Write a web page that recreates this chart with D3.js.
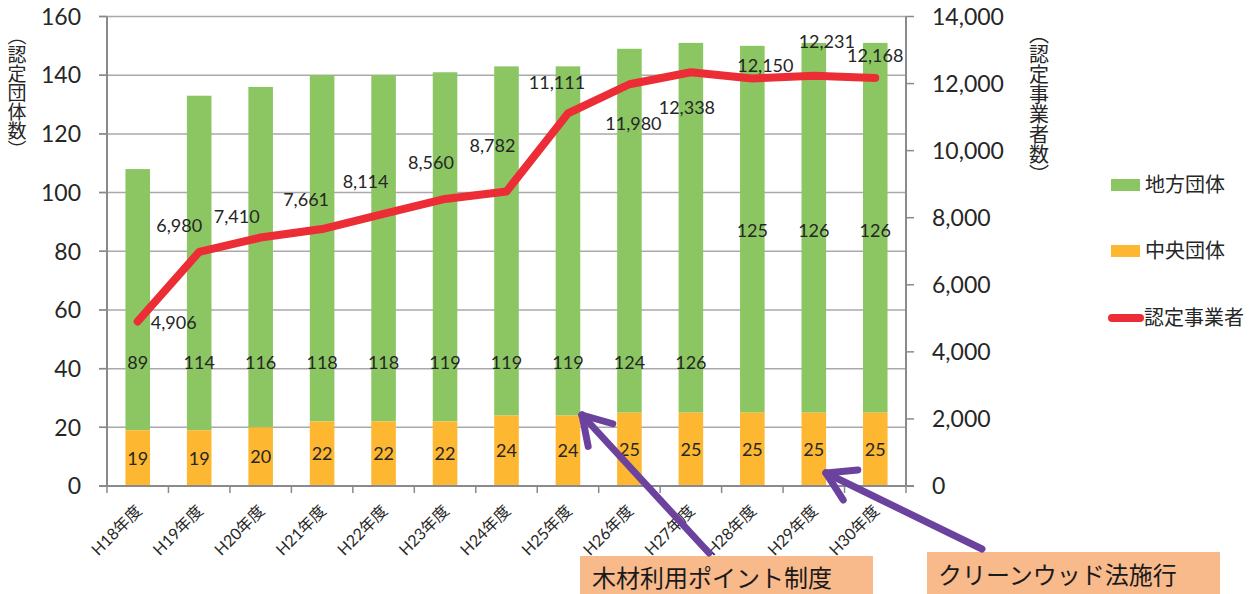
<!DOCTYPE html>
<html><head><meta charset="utf-8">
<script src="https://cdn.jsdelivr.net/npm/d3@7"></script>
<style>
html,body{margin:0;padding:0;background:#fff;}
svg{display:block;}
text{font-family:"Lato","Noto Sans CJK JP",sans-serif;fill:#262626;}
.cjk{font-family:"Noto Sans CJK JP",sans-serif;}
</style></head>
<body>
<svg id="chart" width="1254" height="594"></svg>
<script>
// ---- data ----
const categories = ["H18年度","H19年度","H20年度","H21年度","H22年度","H23年度","H24年度","H25年度","H26年度","H27年度","H28年度","H29年度","H30年度"];
const chuoDantai = [19,19,20,22,22,22,24,24,25,25,25,25,25];           // 中央団体
const chihoDantai = [89,114,116,118,118,119,119,119,124,126,125,126,126]; // 地方団体
const jigyosha = [4906,6980,7410,7661,8114,8560,8782,11111,11980,12338,12150,12231,12168]; // 認定事業者
const leftTicks = [0,20,40,60,80,100,120,140,160];
const rightTicks = [0,2000,4000,6000,8000,10000,12000,14000];
const seriesNames = ["地方団体","中央団体","認定事業者"];
const leftTitle = "（認定団体数）";
const rightTitle = "（認定事業者数）";
const notes = ["木材利用ポイント制度","クリーンウッド法施行"];

// ---- layout ----
const svg = d3.select("#chart");
const L = 107, R = 906, T = 16.5, B = 486;
const colGreen = "#8CC663", colOrange = "#FDB731", colRed = "#EC2D36", colPurple = "#6C429F", colBox = "#F8B98B";

const x = d3.scaleBand().domain(categories).range([L, R]).paddingInner(0.6).paddingOuter(0.3);
const xEdge = d3.scaleBand().domain(categories).range([L, R]).padding(0);
const yL = d3.scaleLinear().domain([0,160]).range([B, T]);
const yR = d3.scaleLinear().domain([0,14000]).range([B, T]);
const cx = c => x(c) + x.bandwidth()/2;

// gridlines
svg.append("g").selectAll("line").data(leftTicks).join("line")
  .attr("x1", L-8).attr("x2", R).attr("y1", d=>yL(d)).attr("y2", d=>yL(d))
  .attr("stroke", "#A9A9AC").attr("stroke-width", 1.5);

// bars
const stackData = categories.map((c,i)=>({c, a: chuoDantai[i], b: chihoDantai[i]}));
svg.append("g").selectAll("rect").data(stackData).join("rect")
  .attr("x", d=>x(d.c)).attr("width", x.bandwidth())
  .attr("y", d=>yL(d.a+d.b)).attr("height", d=>yL(d.a)-yL(d.a+d.b))
  .attr("fill", colGreen);
svg.append("g").selectAll("rect").data(stackData).join("rect")
  .attr("x", d=>x(d.c)).attr("width", x.bandwidth())
  .attr("y", d=>yL(d.a)).attr("height", d=>yL(0)-yL(d.a))
  .attr("fill", colOrange);

// axes lines
const axisCol = "#898A8E";
svg.append("line").attr("x1", L).attr("x2", L).attr("y1", T).attr("y2", B+1).attr("stroke", axisCol).attr("stroke-width", 2);
svg.append("line").attr("x1", R).attr("x2", R).attr("y1", T).attr("y2", B+1).attr("stroke", axisCol).attr("stroke-width", 2);
svg.append("line").attr("x1", L-8).attr("x2", R+8).attr("y1", B).attr("y2", B).attr("stroke", axisCol).attr("stroke-width", 2);
// left ticks
svg.append("g").selectAll("line").data(leftTicks).join("line")
  .attr("x1", L-8).attr("x2", L).attr("y1", d=>yL(d)).attr("y2", d=>yL(d)).attr("stroke", axisCol).attr("stroke-width",1.5);
// right ticks
svg.append("g").selectAll("line").data(rightTicks).join("line")
  .attr("x1", R).attr("x2", R+8).attr("y1", d=>yR(d)).attr("y2", d=>yR(d)).attr("stroke", axisCol).attr("stroke-width",1.5);
// bottom ticks at category edges
const edges = categories.map(c=>xEdge(c)).concat([R]);
svg.append("g").selectAll("line").data(edges).join("line")
  .attr("x1", d=>d).attr("x2", d=>d).attr("y1", B).attr("y2", B+7).attr("stroke", axisCol).attr("stroke-width",1.5);

// tick labels
svg.append("g").selectAll("text").data(leftTicks).join("text")
  .attr("x", 81).attr("y", d=>yL(d)).attr("dy","0.36em").attr("text-anchor","end")
  .style("font-size","23px").text(d=>d);
svg.append("g").selectAll("text").data(rightTicks).join("text")
  .attr("x", 932).attr("y", d=>yR(d)).attr("dy","0.36em").attr("text-anchor","start")
  .style("font-size","23px").text(d=>d3.format(",")(d));
svg.append("g").selectAll("text").data(categories).join("text")
  .attr("transform", c=>`translate(${cx(c)+5},${B+26}) rotate(-45)`)
  .attr("text-anchor","end").style("font-size","16px").text(c=>c);

// axis titles (vertical)
svg.append("text").attr("class","cjk").attr("x", 17).attr("y", 26)
  .style("writing-mode","vertical-rl").style("font-size","19px").text(leftTitle);
svg.append("text").attr("class","cjk").attr("x", 1039).attr("y", 24)
  .style("writing-mode","vertical-rl").style("font-size","20px").text(rightTitle);

// line
const line = d3.line().x((d,i)=>cx(categories[i])).y(d=>yR(d));
svg.append("path").attr("d", line(jigyosha)).attr("fill","none")
  .attr("stroke", colRed).attr("stroke-width", 8).attr("stroke-linejoin","round").attr("stroke-linecap","round");

// bar labels
svg.append("g").selectAll("text").data(stackData).join("text")
  .attr("x", d=>cx(d.c)).attr("y", d=>yL(d.a/2)).attr("dy","0.36em").attr("text-anchor","middle")
  .style("font-size","18px").text(d=>d.a);
svg.append("g").selectAll("text").data(stackData).join("text")
  .attr("x", d=>cx(d.c)).attr("y", (d,i)=>yL(i>=10 ? 87 : 42)).attr("dy","0.36em").attr("text-anchor","middle")
  .style("font-size","18px").text(d=>d.b);

// line labels (placement nudges)
const labelNudge = [[36,1],[-20,-26],[-24,-21],[-16,-30],[-18,-32],[-14,-36],[-14,-46],[-11,-31],[4,39],[-4,35],[13,-13],[13,-34],[0,-22]];
svg.append("g").selectAll("text").data(jigyosha).join("text")
  .attr("x", (d,i)=>cx(categories[i]) + labelNudge[i][0])
  .attr("y", (d,i)=>yR(d) + labelNudge[i][1])
  .attr("dy","0.36em").attr("text-anchor","middle")
  .style("font-size","18px").text(d=>d3.format(",")(d));

// legend
const lg = svg.append("g");
lg.append("rect").attr("x",1111).attr("y",179).attr("width",29).attr("height",12).attr("fill",colGreen);
lg.append("text").attr("class","cjk").attr("x",1145).attr("y",185).attr("dy","0.36em").style("font-size","20px").text(seriesNames[0]);
lg.append("rect").attr("x",1111).attr("y",245).attr("width",29).attr("height",12).attr("fill",colOrange);
lg.append("text").attr("class","cjk").attr("x",1145).attr("y",251).attr("dy","0.36em").style("font-size","20px").text(seriesNames[1]);
lg.append("line").attr("x1",1112).attr("x2",1140).attr("y1",318).attr("y2",318).attr("stroke",colRed).attr("stroke-width",8).attr("stroke-linecap","round");
lg.append("text").attr("class","cjk").attr("x",1144).attr("y",318).attr("dy","0.36em").style("font-size","20px").text(seriesNames[2]);

// annotation boxes
const ann = svg.append("g");
ann.append("rect").attr("x",580).attr("y",556).attr("width",293).attr("height",40).attr("fill",colBox);
ann.append("text").attr("class","cjk").attr("x",592).attr("y",578).attr("dy","0.36em").style("font-size","24px").style("fill","#1a1a1a").text(notes[0]);
ann.append("rect").attr("x",927).attr("y",552).attr("width",293).attr("height",44).attr("fill",colBox);
ann.append("text").attr("class","cjk").attr("x",938).attr("y",575).attr("dy","0.36em").style("font-size","24px").style("fill","#1a1a1a").text(notes[1]);

// arrows
function arrow(x1,y1,x2,y2){
  const g = svg.append("g").attr("stroke",colPurple).attr("stroke-width",7).attr("stroke-linecap","round").attr("fill","none");
  g.append("line").attr("x1",x1).attr("y1",y1).attr("x2",x2).attr("y2",y2);
  const ang = Math.atan2(y1-y2, x1-x2), len = 32, spread = 0.55;
  [ang-spread, ang+spread].forEach(a=>{
    g.append("line").attr("x1",x2).attr("y1",y2).attr("x2",x2+len*Math.cos(a)).attr("y2",y2+len*Math.sin(a));
  });
}
arrow(709,553,582,415);
arrow(982,549,826,473);
</script>
</body></html>
